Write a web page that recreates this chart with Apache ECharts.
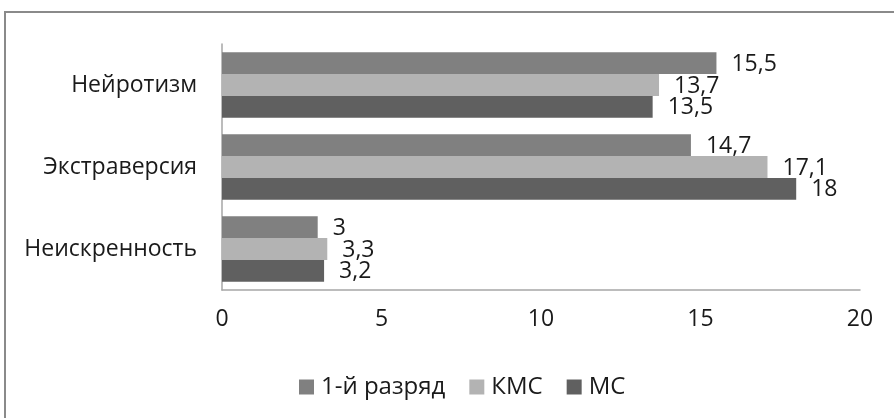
<!DOCTYPE html>
<html>
<head>
<meta charset="utf-8">
<script src="https://cdn.jsdelivr.net/npm/echarts@6/dist/echarts.min.js"></script>
<style>
  html, body { margin: 0; padding: 0; background: #fff; }
  #chart { width: 894px; height: 418px; }
</style>
</head>
<body>
<div id="chart"></div>
<script>
// Personality scale means by sport qualification
const categories = ['Нейротизм', 'Экстраверсия', 'Неискренность'];
const seriesNames = ['1-й разряд', 'КМС', 'МС'];
const rank1 = [15.5, 14.7, 3];
const kms = [13.7, 17.1, 3.3];
const ms = [13.5, 18, 3.2];
const xTicks = { min: 0, max: 20, interval: 5 };

const colors = ['#808080', '#b3b3b3', '#606060'];
const font = '"Open Sans", "Noto Sans", sans-serif';
const textColor = '#1a1a1a';

const fmt = v => String(v).replace('.', ',');

const values = [rank1, kms, ms];

const chart = echarts.init(document.getElementById('chart'), null, { renderer: 'canvas' });

chart.setOption({
  animation: false,
  backgroundColor: '#fff',
  color: colors,
  textStyle: { fontFamily: font },
  graphic: [{
    type: 'rect',
    shape: { x: 5, y: 12, width: 900, height: 420 },
    style: { fill: 'none', stroke: '#8a8a8a', lineWidth: 2 },
    silent: true,
    z: -1
  }],
  grid: { left: 222, right: 34, top: 44, bottom: 128 },
  legend: {
    data: seriesNames,
    bottom: 14,
    left: 294,
    icon: 'rect',
    itemWidth: 15,
    itemHeight: 15,
    itemGap: 24,
    textStyle: { fontFamily: font, fontSize: 24, color: textColor, padding: [0, 0, 0, 2] }
  },
  xAxis: {
    type: 'value',
    min: xTicks.min,
    max: xTicks.max,
    interval: xTicks.interval,
    axisLine: { show: true, lineStyle: { color: '#a6a6a6', width: 1.5 } },
    axisTick: { show: false },
    splitLine: { show: false },
    axisLabel: { fontFamily: font, fontSize: 23, color: textColor, margin: 18 }
  },
  yAxis: {
    type: 'category',
    data: categories,
    inverse: true,
    axisLine: { show: true, lineStyle: { color: '#a6a6a6', width: 1.5 } },
    axisTick: { show: false },
    axisLabel: { fontFamily: font, fontSize: 23, color: textColor, margin: 25 }
  },
  series: seriesNames.map((name, i) => ({
    name,
    type: 'bar',
    data: values[i],
    barGap: '0%',
    barCategoryGap: '20%',
    itemStyle: { color: colors[i] },
    label: {
      show: true,
      position: 'right',
      distance: 15,
      offset: [0, 1],
      fontFamily: font,
      fontSize: 23,
      color: textColor,
      formatter: p => fmt(p.value)
    }
  }))
});
</script>
</body>
</html>
